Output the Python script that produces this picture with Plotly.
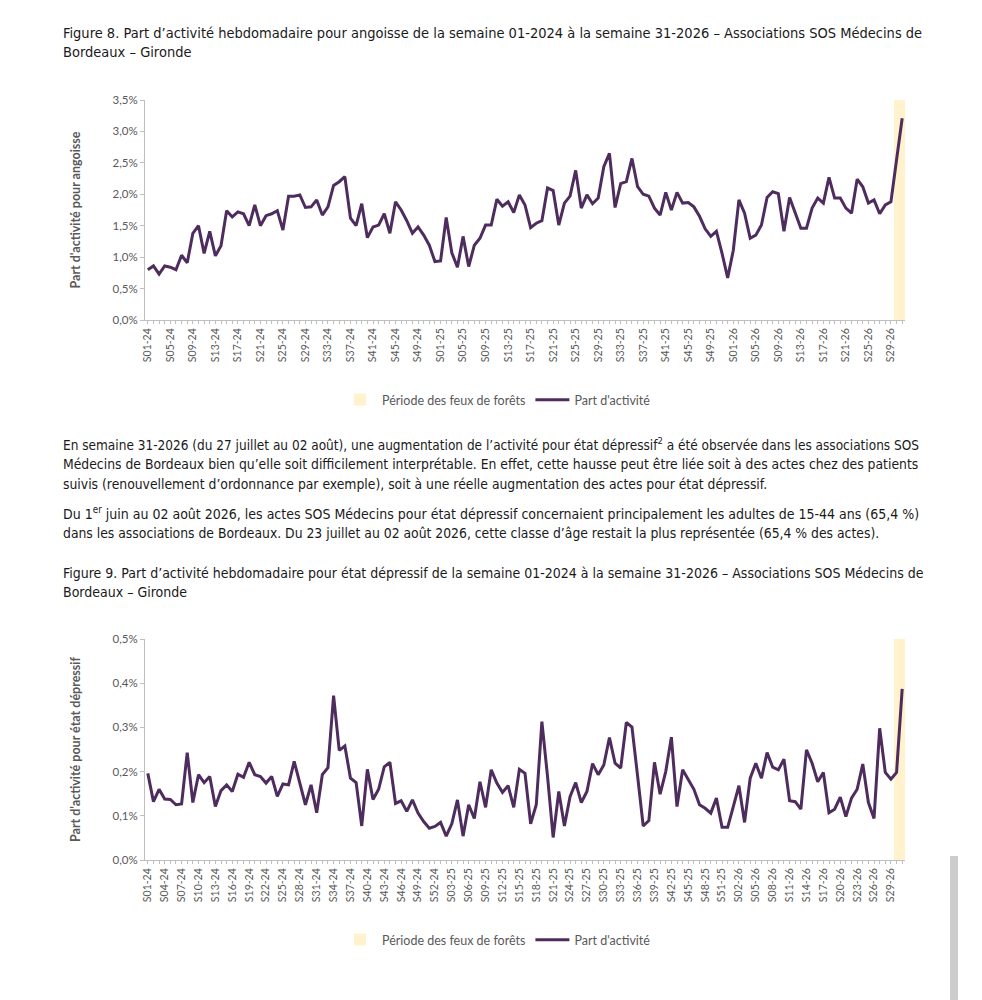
import plotly.graph_objects as go

W, H = 982, 1000
OFF = 8  # marge par défaut du <body> de la page html

# semaines S01-24 ... S31-26
weeks = [f"S{w:02d}-{y}" for y, n in ((24, 52), (25, 52), (26, 31)) for w in range(1, n + 1)]

# Figure 8 : part d'activité pour angoisse (%)
angoisse = [
    0.80, 0.86, 0.73, 0.86, 0.84, 0.80, 1.03, 0.91, 1.38, 1.50,
    1.06, 1.41, 1.02, 1.18, 1.74, 1.64, 1.72, 1.69, 1.50, 1.83,
    1.50, 1.66, 1.69, 1.74, 1.43, 1.97, 1.97, 1.99, 1.79, 1.80,
    1.91, 1.67, 1.80, 2.14, 2.20, 2.28, 1.62, 1.50, 1.85, 1.31,
    1.48, 1.51, 1.69, 1.38, 1.88, 1.75, 1.58, 1.38, 1.48, 1.35,
    1.19, 0.93, 0.94, 1.63, 1.07, 0.84, 1.33, 0.85, 1.19, 1.30,
    1.51, 1.51, 1.92, 1.81, 1.88, 1.71, 1.99, 1.83, 1.47, 1.54,
    1.58, 2.10, 2.06, 1.51, 1.86, 1.97, 2.38, 1.78, 1.99, 1.85,
    1.94, 2.44, 2.65, 1.79, 2.17, 2.20, 2.57, 2.12, 2.00, 1.97,
    1.78, 1.67, 2.03, 1.75, 2.03, 1.86, 1.87, 1.80, 1.65, 1.45,
    1.33, 1.41, 1.06, 0.67, 1.11, 1.91, 1.70, 1.30, 1.35, 1.51,
    1.95, 2.04, 2.01, 1.41, 1.95, 1.72, 1.46, 1.46, 1.78, 1.94,
    1.86, 2.27, 1.94, 1.94, 1.78, 1.70, 2.24, 2.12, 1.86, 1.91,
    1.69, 1.83, 1.88, 2.55, 3.21,
]

# Figure 9 : part d'activité pour état dépressif (%)
depressif = [
    0.196, 0.132, 0.160, 0.138, 0.137, 0.125, 0.127, 0.243, 0.130, 0.193,
    0.175, 0.189, 0.121, 0.157, 0.170, 0.155, 0.194, 0.187, 0.221, 0.193,
    0.189, 0.174, 0.189, 0.144, 0.172, 0.170, 0.223, 0.175, 0.125, 0.170,
    0.107, 0.193, 0.209, 0.372, 0.248, 0.258, 0.185, 0.175, 0.077, 0.205,
    0.137, 0.160, 0.211, 0.221, 0.128, 0.134, 0.110, 0.136, 0.106, 0.087,
    0.072, 0.076, 0.085, 0.054, 0.082, 0.136, 0.054, 0.125, 0.094, 0.177,
    0.119, 0.204, 0.174, 0.153, 0.168, 0.119, 0.205, 0.196, 0.082, 0.125,
    0.313, 0.189, 0.051, 0.155, 0.077, 0.143, 0.175, 0.130, 0.155, 0.218,
    0.193, 0.215, 0.277, 0.219, 0.208, 0.311, 0.301, 0.190, 0.077, 0.089,
    0.221, 0.149, 0.200, 0.278, 0.121, 0.204, 0.181, 0.160, 0.125, 0.117,
    0.106, 0.140, 0.074, 0.074, 0.121, 0.168, 0.085, 0.185, 0.219, 0.185,
    0.243, 0.210, 0.204, 0.228, 0.134, 0.132, 0.115, 0.249, 0.219, 0.177,
    0.198, 0.107, 0.115, 0.142, 0.098, 0.140, 0.160, 0.217, 0.130, 0.094,
    0.298, 0.198, 0.183, 0.198, 0.387,
]

# semaines de la période des feux de forêts
feux_weeks = ["S30-26", "S31-26"]

PURPLE = "#4e2c5e"
CREAM = "#fff2cc"
GREY = "#595959"
AXIS = "#bfbfbf"
CHART_FONT = "Lato, Open Sans, sans-serif"
TEXT_FONT = "Liberation Sans Narrow, Arial Narrow, DejaVu Sans Condensed, sans-serif"


def px(x):
    return (x - OFF) / W


def py(y):
    return 1 - (y - OFF) / H


fig = go.Figure()

# Figure 8
fig.add_trace(go.Bar(x=feux_weeks, y=[3.5] * len(feux_weeks), width=1, marker_color=CREAM,
                     marker_line_width=0, name="Période des feux de forêts",
                     xaxis="x", yaxis="y", legend="legend"))
fig.add_trace(go.Scatter(x=weeks, y=angoisse, mode="lines", line=dict(color=PURPLE, width=3),
                         name="Part d'activité", xaxis="x", yaxis="y", legend="legend"))
# Figure 9
fig.add_trace(go.Bar(x=feux_weeks, y=[0.5] * len(feux_weeks), width=1, marker_color=CREAM,
                     marker_line_width=0, name="Période des feux de forêts",
                     xaxis="x2", yaxis="y2", legend="legend2"))
fig.add_trace(go.Scatter(x=weeks, y=depressif, mode="lines", line=dict(color=PURPLE, width=3),
                         name="Part d'activité", xaxis="x2", yaxis="y2", legend="legend2"))


def xaxis(step, anchor):
    return dict(
        type="category", categoryorder="array", categoryarray=weeks,
        range=[-0.5, len(weeks) - 0.5], domain=[px(145), px(905)], anchor=anchor,
        tickmode="array", tickvals=weeks,
        ticktext=[w if i % step == 0 else "" for i, w in enumerate(weeks)],
        tickangle=-90, tickfont=dict(size=10.5, color=GREY, family=CHART_FONT),
        ticks="outside", ticklen=3, tickcolor=AXIS, tickwidth=1,
        showline=True, linecolor=AXIS, linewidth=1, showgrid=False, zeroline=False,
    )


def yaxis(top, bottom, rng, dtick, title, anchor):
    return dict(
        domain=[py(bottom), py(top)], range=rng, anchor=anchor,
        tick0=0, dtick=dtick, tickformat=".1f", ticksuffix="%",
        tickfont=dict(size=11.5, color=GREY, family=CHART_FONT),
        ticks="outside", ticklen=4, tickcolor=AXIS,
        showline=True, linecolor=AXIS, linewidth=1, showgrid=False, zeroline=False,
        title=dict(text=f"<b>{title}</b>", font=dict(size=12.5, color=GREY, family=CHART_FONT),
                   standoff=29),
    )


legend_style = dict(orientation="h", xanchor="center", yanchor="middle", x=px(497),
                    font=dict(size=12.5, color=GREY, family=CHART_FONT),
                    bgcolor="rgba(0,0,0,0)", itemwidth=34, tracegroupgap=0)

fig.update_layout(
    width=W, height=H,
    margin=dict(l=0, r=0, t=0, b=0, autoexpand=False),
    paper_bgcolor="white", plot_bgcolor="white",
    separators=", ",
    barmode="overlay", bargap=0,
    showlegend=True,
    xaxis=xaxis(4, "y"),
    yaxis=yaxis(100, 320, [0, 3.5], 0.5, "Part d'activité pour angoisse", "x"),
    xaxis2=xaxis(3, "y2"),
    yaxis2=yaxis(639, 860, [0, 0.5], 0.1, "Part d'activité pour état dépressif", "x2"),
    legend=dict(legend_style, y=py(400)),
    legend2=dict(legend_style, y=py(940)),
)

# textes du document (y, taille, texte) : la taille par ligne imite la justification
text_lines = [
    (33, 14.5, "Figure 8. Part d’activité hebdomadaire pour angoisse de la semaine 01-2024 à la semaine 31-2026 – Associations SOS Médecins de"),
    (52, 14.5, "Bordeaux – Gironde"),
    (444, 13.5, "En semaine 31-2026 (du 27 juillet au 02 août), une augmentation de l’activité pour état dépressif<sup>2</sup> a été observée dans les associations SOS"),
    (464, 13.8, "Médecins de Bordeaux bien qu’elle soit difficilement interprétable. En effet, cette hausse peut être liée soit à des actes chez des patients"),
    (484, 13.8, "suivis (renouvellement d’ordonnance par exemple), soit à une réelle augmentation des actes pour état dépressif."),
    (513, 14.0, "Du 1<sup>er</sup> juin au 02 août 2026, les actes SOS Médecins pour état dépressif concernaient principalement les adultes de 15-44 ans (65,4 %)"),
    (533, 13.8, "dans les associations de Bordeaux. Du 23 juillet au 02 août 2026, cette classe d’âge restait la plus représentée (65,4 % des actes)."),
    (573, 14.0, "Figure 9. Part d’activité hebdomadaire pour état dépressif de la semaine 01-2024 à la semaine 31-2026 – Associations SOS Médecins de"),
    (592, 14.0, "Bordeaux – Gironde"),
]
for y, size, txt in text_lines:
    fig.add_annotation(text=txt, xref="paper", yref="paper", x=px(61), y=py(y),
                       xanchor="left", yanchor="middle", showarrow=False,
                       font=dict(size=size, color="#1a1a1a", family=TEXT_FONT))

# barre de défilement de la capture
fig.add_shape(type="rect", xref="paper", yref="paper", x0=px(950), x1=px(958),
              y0=py(1008), y1=py(856), fillcolor="#cdcdcd", line_width=0, layer="above")

fig.write_html("out.html")
